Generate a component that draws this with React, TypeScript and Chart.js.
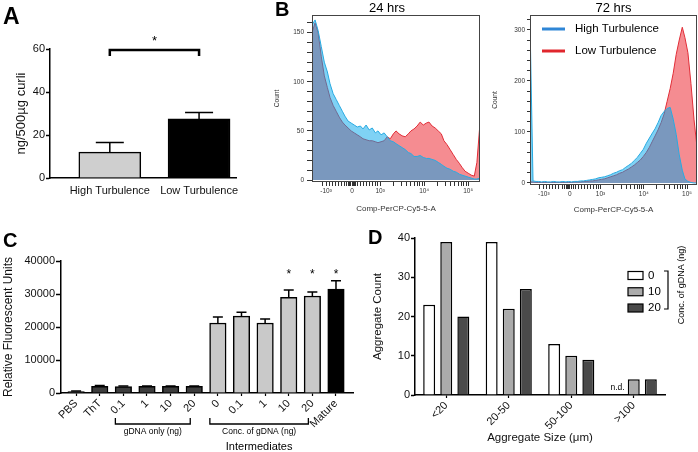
import React, { useEffect, useRef } from "react";
import { Chart, registerables } from "chart.js";

Chart.register(...registerables);

const SANS = "'Liberation Sans', Arial, Helvetica, sans-serif";
Chart.defaults.font.family = SANS;
Chart.defaults.color = "#111";

// ---------------- Panel A ----------------
const aCategories = ["High Turbulence", "Low Turbulence"];
const aValues = [12, 27.5];
const aErrors = [4.5, 3];
const aYTicks = [0, 20, 40, 60];
const aYTitle = "ng/500µg curli";
const aSig = { from: 1, to: 2, level: 59.5, drop: 56.8, star: 62, text: "*" };

// ---------------- Panel B ----------------
const bXLabels = ["-10³", "0", "10³", "10⁴", "10⁵"];
const bDecadeMinors = [2, 3, 4, 5, 6, 7, 8, 9];
const bXTitle = "Comp-PerCP-Cy5-5-A";
const bYTitle = "Count";
const bSeriesNames = ["High Turbulence", "Low Turbulence"];

const b24Title = "24 hrs";
const b24XMajors = [-0.23, 0.36, 1, 2, 3];
const b24XLinearMinors = [-0.32, -0.16, -0.09, -0.02, 0.05, 0.11, 0.18, 0.24, 0.28, 0.31, 0.33, 0.39, 0.41, 0.44, 0.48, 0.55, 0.62, 0.69, 0.76, 0.83, 0.9, 0.95];
const b24YTicks = [0, 10, 20, 30, 40, 50, 60, 70, 80, 90, 100, 110, 120, 130, 140, 150, 160];
const b24YLabels = [0, 50, 100, 150];
const b24Bins = [-0.55, -0.48, -0.41, -0.34, -0.27, -0.2, -0.14, -0.07, 0, 0.07, 0.14, 0.2, 0.27, 0.34, 0.41, 0.48, 0.55, 0.61, 0.68, 0.75, 0.82, 0.89, 0.95, 1.02, 1.09, 1.16, 1.23, 1.3, 1.36, 1.43, 1.5, 1.57, 1.64, 1.7, 1.77, 1.84, 1.91, 1.98, 2.05, 2.11, 2.18, 2.25, 2.32, 2.39, 2.45, 2.52, 2.59, 2.66, 2.73, 2.8, 2.86, 2.93, 3, 3.07, 3.14, 3.2, 3.27];
const b24High = [158, 163, 152, 136, 120, 110, 98, 88, 82, 76, 70, 65, 60, 58, 56, 54, 55, 52, 56, 51, 53, 48, 50, 46, 48, 44, 40, 39, 37, 35, 33, 31, 28, 27, 24, 24, 25, 23, 22, 22, 21, 20, 18, 16, 14, 12, 11, 9, 8, 6, 5, 4, 3, 2, 1, 1, 2];
const b24Low = [150, 160, 150, 126, 106, 94, 84, 76, 70, 64, 59, 56, 53, 50, 48, 46, 44, 42, 41, 40, 40, 39, 38, 39, 40, 44, 42, 47, 50, 47, 45, 44, 47, 50, 52, 55, 59, 56, 58, 59, 55, 53, 50, 47, 40, 36, 31, 26, 21, 17, 13, 9, 7, 5, 4, 18, 58];

const b72Title = "72 hrs";
const b72XMajors = [-0.31, 0.29, 1, 2, 3];
const b72XLinearMinors = [-0.4, -0.24, -0.17, -0.1, -0.03, 0.04, 0.11, 0.17, 0.21, 0.24, 0.26, 0.32, 0.34, 0.37, 0.42, 0.49, 0.56, 0.63, 0.7, 0.77, 0.84, 0.91, 0.96];
const b72YTicks = [0, 20, 40, 60, 80, 100, 120, 140, 160, 180, 200, 220, 240, 260, 280, 300, 320];
const b72YLabels = [0, 100, 200, 300];
const b72Bins = [-0.63, -0.56, -0.49, -0.43, -0.36, -0.29, -0.22, -0.15, -0.08, -0.01, 0.06, 0.13, 0.2, 0.26, 0.33, 0.4, 0.47, 0.54, 0.61, 0.68, 0.75, 0.82, 0.89, 0.95, 1.02, 1.09, 1.16, 1.23, 1.3, 1.37, 1.44, 1.51, 1.57, 1.64, 1.71, 1.78, 1.85, 1.92, 1.99, 2.06, 2.13, 2.2, 2.26, 2.33, 2.4, 2.47, 2.54, 2.61, 2.68, 2.75, 2.82, 2.89, 2.95, 3.02, 3.09, 3.16, 3.23];
const b72High = [315, 4, 3, 3, 2, 3, 2, 2, 3, 2, 2, 3, 2, 3, 2, 3, 3, 4, 4, 5, 6, 7, 8, 10, 11, 12, 14, 16, 19, 21, 24, 26, 30, 34, 38, 44, 50, 58, 66, 78, 88, 98, 106, 118, 132, 140, 146, 148, 125, 95, 55, 25, 8, 3, 1, 0, 0];
const b72Low = [2, 2, 1, 1, 1, 1, 1, 1, 1, 1, 1, 1, 1, 1, 1, 2, 2, 2, 3, 3, 4, 4, 5, 6, 7, 8, 10, 12, 14, 16, 19, 21, 24, 27, 31, 35, 40, 45, 52, 60, 70, 82, 92, 104, 118, 135, 160, 185, 215, 252, 280, 305, 285, 255, 195, 125, 70];

// ---------------- Panel C ----------------
const cLabels = ["PBS", "ThT", "0.1", "1", "10", "20", "0", "0.1", "1", "10", "20", "Mature"];
const cValues = [450, 2050, 1950, 2000, 2000, 2000, 21200, 23300, 21200, 29000, 29400, 31500];
const cErrors = [150, 200, 150, 150, 150, 150, 1800, 1200, 1200, 2200, 1200, 2500];
const cYTicks = [0, 10000, 20000, 30000, 40000];
const cYTitle = "Relative Fluorescent Units";
const cBrackets = [
  { from: 2, to: 5, text: "gDNA only (ng)" },
  { from: 6, to: 10, text: "Conc. of gDNA (ng)" },
];
const cGroupLabel = "Intermediates";
const cStarIdx = [9, 10, 11];
const cStarLevel = 34800;
const cColors = ["#3d3d3d", "#3d3d3d", "#3d3d3d", "#3d3d3d", "#3d3d3d", "#3d3d3d", "#c9c9c9", "#c9c9c9", "#c9c9c9", "#c9c9c9", "#c9c9c9", "#000000"];

// ---------------- Panel D ----------------
const dCategories = ["<20", "20-50", "50-100", ">100"];
const dSeriesNames = ["0", "10", "20"];
const dSeries0 = [23, 39, 13, null];
const dSeries10 = [39, 22, 10, 4];
const dSeries20 = [20, 27, 9, 4];
const dYTicks = [0, 10, 20, 30, 40];
const dXTitle = "Aggregate Size (μm)";
const dYTitle = "Aggregate Count";
const dLegendTitle = "Conc. of gDNA (ng)";
const dMissingText = "n.d.";
const dColors = ["#ffffff", "#ababab", "#4a4a4a"];

// ---------------- plugins ----------------
function errorBars(errs: (number | null)[][], capHalf: number, lw: number) {
  return {
    id: "errorBars",
    afterDatasetsDraw(chart: any) {
      const ctx = chart.ctx;
      const ys = chart.scales.y;
      ctx.save();
      ctx.strokeStyle = "#000";
      ctx.lineWidth = lw;
      errs.forEach((arr, di) => {
        const meta = chart.getDatasetMeta(di);
        meta.data.forEach((el: any, i: number) => {
          const e = arr[i];
          if (e == null) return;
          const raw = chart.data.datasets[di].data[i];
          const v = typeof raw === "object" && raw !== null ? raw.y : raw;
          const yy = ys.getPixelForValue(v + e);
          ctx.beginPath();
          ctx.moveTo(el.x, el.y);
          ctx.lineTo(el.x, yy);
          ctx.moveTo(el.x - capHalf, yy);
          ctx.lineTo(el.x + capHalf, yy);
          ctx.stroke();
        });
      });
      ctx.restore();
    },
  };
}

const aSigPlugin = {
  id: "aSig",
  afterDraw(chart: any) {
    const { ctx, scales } = chart;
    const x = scales.x, y = scales.y;
    const x1 = x.getPixelForValue(aSig.from), x2 = x.getPixelForValue(aSig.to);
    const yl = y.getPixelForValue(aSig.level), yd = y.getPixelForValue(aSig.drop);
    ctx.save();
    ctx.strokeStyle = "#000";
    ctx.lineWidth = 2.5;
    ctx.beginPath();
    ctx.moveTo(x1, yd);
    ctx.lineTo(x1, yl);
    ctx.lineTo(x2, yl);
    ctx.lineTo(x2, yd);
    ctx.stroke();
    ctx.fillStyle = "#000";
    ctx.font = `13px ${SANS}`;
    ctx.textAlign = "center";
    ctx.textBaseline = "alphabetic";
    ctx.fillText(aSig.text, (x1 + x2) / 2, y.getPixelForValue(aSig.star));
    ctx.restore();
  },
};

function framePlugin(color: string) {
  return {
    id: "frame",
    afterDatasetsDraw(chart: any) {
      const { ctx, chartArea: a } = chart;
      ctx.save();
      ctx.strokeStyle = color;
      ctx.lineWidth = 1;
      ctx.strokeRect(Math.round(a.left) + 0.5, Math.round(a.top) + 0.5, Math.round(a.right - a.left) - 1, Math.round(a.bottom - a.top) - 1);
      ctx.restore();
    },
  };
}

function topTitle(text: string, dx: number) {
  return {
    id: "topTitle",
    afterDraw(chart: any) {
      const { ctx, chartArea: a } = chart;
      ctx.save();
      ctx.font = `13px ${SANS}`;
      ctx.fillStyle = "#000";
      ctx.textAlign = "center";
      ctx.textBaseline = "middle";
      ctx.fillText(text, (a.left + a.right) / 2 + dx, 8);
      ctx.restore();
    },
  };
}

function histLegend(colors: string[]) {
  return {
    id: "histLegend",
    afterDatasetsDraw(chart: any) {
      const { ctx, chartArea: a } = chart;
      ctx.save();
      chart.data.datasets.forEach((ds: any, i: number) => {
        const y = a.top + 14 + i * 22;
        ctx.strokeStyle = colors[i];
        ctx.lineWidth = 3;
        ctx.beginPath();
        ctx.moveTo(a.left + 12, y);
        ctx.lineTo(a.left + 35, y);
        ctx.stroke();
        ctx.fillStyle = "#000";
        ctx.font = `11.5px ${SANS}`;
        ctx.textAlign = "left";
        ctx.textBaseline = "middle";
        ctx.fillText(ds.label, a.left + 45, y);
      });
      ctx.restore();
    },
  };
}

const cAnnotPlugin = {
  id: "cAnnot",
  afterDraw(chart: any) {
    const { ctx, chartArea: a, scales } = chart;
    const x = scales.x, y = scales.y;
    ctx.save();
    ctx.strokeStyle = "#000";
    ctx.fillStyle = "#000";
    ctx.lineWidth = 1.3;
    ctx.textAlign = "center";
    ctx.textBaseline = "middle";
    const yb = a.bottom + 31;
    let cx = 0;
    cBrackets.forEach((b) => {
      const x1 = x.getPixelForValue(b.from) - 8, x2 = x.getPixelForValue(b.to) - 4;
      ctx.beginPath();
      ctx.moveTo(x1, yb - 6);
      ctx.lineTo(x1, yb);
      ctx.lineTo(x2, yb);
      ctx.lineTo(x2, yb - 6);
      ctx.stroke();
      ctx.font = `8.5px ${SANS}`;
      ctx.fillText(b.text, (x1 + x2) / 2, yb + 8);
      cx = (x1 + x2) / 2;
    });
    ctx.font = `11px ${SANS}`;
    ctx.fillText(cGroupLabel, cx, yb + 23);
    ctx.font = `12px ${SANS}`;
    ctx.textBaseline = "alphabetic";
    cStarIdx.forEach((i) => {
      ctx.fillText("*", x.getPixelForValue(i), y.getPixelForValue(cStarLevel));
    });
    ctx.restore();
  },
};

const dAnnotPlugin = {
  id: "dAnnot",
  afterDraw(chart: any) {
    const { ctx, chartArea: a, scales } = chart;
    ctx.save();
    chart.data.datasets.forEach((ds: any, i: number) => {
      const cy = a.top + 37.5 + i * 16.25;
      ctx.fillStyle = ds.backgroundColor;
      ctx.fillRect(a.right - 37, cy - 4, 15, 8);
      ctx.strokeStyle = "#000";
      ctx.lineWidth = 1.2;
      ctx.strokeRect(a.right - 37, cy - 4, 15, 8);
      ctx.fillStyle = "#000";
      ctx.font = `11.5px ${SANS}`;
      ctx.textAlign = "left";
      ctx.textBaseline = "middle";
      ctx.fillText(ds.label, a.right - 17, cy);
    });
    const bx = a.right + 3;
    ctx.strokeStyle = "#000";
    ctx.lineWidth = 1.2;
    ctx.beginPath();
    ctx.moveTo(bx - 4, a.top + 33);
    ctx.lineTo(bx, a.top + 33);
    ctx.lineTo(bx, a.top + 71);
    ctx.lineTo(bx - 4, a.top + 71);
    ctx.stroke();
    ctx.save();
    ctx.translate(a.right + 16.5, a.top + 47);
    ctx.rotate(-Math.PI / 2);
    ctx.font = `9px ${SANS}`;
    ctx.textAlign = "center";
    ctx.textBaseline = "middle";
    ctx.fillText(dLegendTitle, 0, 0);
    ctx.restore();
    chart.data.datasets.forEach((ds: any, di: number) => {
      const meta = chart.getDatasetMeta(di);
      ds.data.forEach((v: any, i: number) => {
        if (v !== null) return;
        let xp = meta.data[i] ? meta.data[i].x : NaN;
        if (!isFinite(xp)) xp = scales.x.getPixelForValue(i) - 17;
        ctx.font = `8.5px ${SANS}`;
        ctx.fillStyle = "#000";
        ctx.textAlign = "right";
        ctx.textBaseline = "middle";
        ctx.fillText(dMissingText, xp + 8, a.bottom - 7);
      });
    });
    ctx.restore();
  },
};

// ---------------- configs ----------------
const base = { responsive: false, animation: false as const, devicePixelRatio: 1 };
const noPlugins = { legend: { display: false }, tooltip: { enabled: false }, title: { display: false } };

function configA(): any {
  return {
    type: "bar",
    data: {
      datasets: [
        {
          data: aValues.map((v, i) => ({ x: i + 1, y: v })),
          backgroundColor: ["#cfcfcf", "#000000"],
          borderColor: "#000",
          borderWidth: 1.5,
          barThickness: 62,
        },
      ],
    },
    options: {
      ...base,
      layout: { padding: { top: 49, right: 5, left: 0, bottom: 0 } },
      plugins: noPlugins,
      scales: {
        x: {
          type: "linear",
          offset: false,
          min: 0.33,
          max: 2.42,
          afterBuildTicks: (s: any) => { s.ticks = aCategories.map((_, i) => ({ value: i + 1 })); },
          afterFit: (s: any) => { s.height = 22; },
          ticks: { autoSkip: false, maxRotation: 0, padding: 6, color: "#111", font: { size: 11 }, callback: (v: any) => aCategories[v - 1] ?? "" },
          grid: { display: false, drawTicks: false, offset: false },
          border: { color: "#000", width: 1.5 },
        },
        y: {
          min: 0,
          max: 60,
          afterBuildTicks: (s: any) => { s.ticks = aYTicks.map((v) => ({ value: v })); },
          afterFit: (s: any) => { s.width = 50; },
          ticks: { padding: 1, color: "#111", font: { size: 11 }, callback: (v: any) => String(v) },
          grid: { drawOnChartArea: false, tickLength: 4, tickWidth: 1.5, color: "#000" },
          border: { color: "#000", width: 1.5 },
          title: { display: true, text: aYTitle, color: "#111", font: { size: 13 }, padding: { top: 14, bottom: 0 } },
        },
      },
    },
    plugins: [errorBars([aErrors], 14, 1.5), aSigPlugin],
  };
}

function histConfig(p: any): any {
  const minorsX = [...p.linMinors];
  [1, 2, 3].forEach((d) => bDecadeMinors.forEach((k) => minorsX.push(d + Math.log10(k))));
  const xTicks = [...p.majors, ...minorsX].filter((v) => v >= p.xMin && v <= p.xMax).sort((a, b) => a - b);
  return {
    type: "line",
    data: {
      datasets: [
        {
          label: bSeriesNames[0],
          data: p.bins.map((x: number, i: number) => ({ x, y: p.high[i] })),
          borderColor: "rgb(40,170,225)",
          backgroundColor: "rgba(0,165,235,0.5)",
          fill: "origin",
          borderWidth: 1,
          pointRadius: 0,
          tension: 0,
          order: 0,
        },
        {
          label: bSeriesNames[1],
          data: p.bins.map((x: number, i: number) => ({ x, y: p.low[i] })),
          borderColor: "rgb(225,45,55)",
          backgroundColor: "rgba(235,25,35,0.5)",
          fill: "origin",
          borderWidth: 1,
          pointRadius: 0,
          tension: 0,
          order: 1,
        },
      ],
    },
    options: {
      ...base,
      layout: { padding: { top: 15, right: p.padRight, left: 0, bottom: 0 } },
      plugins: noPlugins,
      scales: {
        x: {
          type: "linear",
          min: p.xMin,
          max: p.xMax,
          afterBuildTicks: (s: any) => { s.ticks = xTicks.map((v) => ({ value: v })); },
          afterFit: (s: any) => { s.height = p.xAxisHeight; },
          ticks: {
            autoSkip: false,
            maxRotation: 0,
            padding: 1,
            color: "#333",
            font: { size: 6.5 },
            callback: (v: any) => {
              const i = p.majors.indexOf(v);
              return i >= 0 ? bXLabels[i] : "";
            },
          },
          grid: { drawOnChartArea: false, tickLength: 4, color: "#333", tickWidth: 1 },
          border: { display: false },
          title: { display: true, text: bXTitle, color: "#333", font: { size: 8 }, padding: { top: 0, bottom: p.xTitlePad } },
        },
        y: {
          min: p.yMin,
          max: p.yMax,
          afterBuildTicks: (s: any) => { s.ticks = p.yTicks.map((v: number) => ({ value: v })); },
          afterFit: (s: any) => { s.width = p.yAxisWidth; },
          ticks: {
            autoSkip: false,
            padding: p.yPad,
            color: "#333",
            font: { size: 6.5 },
            callback: (v: any) => (p.yLabels.includes(v) ? String(v) : ""),
          },
          grid: { drawOnChartArea: false, tickLength: p.yTickLen, color: "#333", tickWidth: 1 },
          border: { display: false },
          title: { display: true, text: bYTitle, color: "#333", font: { size: 6.6 }, padding: { top: p.yTitlePad, bottom: 0 } },
        },
      },
    },
    plugins: [framePlugin("#444"), topTitle(p.title, p.titleDx), ...(p.legend ? [histLegend(["#2f86d6", "#e0262d"])] : [])],
  };
}

function configC(): any {
  return {
    type: "bar",
    data: {
      datasets: [
        {
          data: cValues.map((v, i) => ({ x: i, y: v })),
          backgroundColor: cColors,
          borderColor: "#000",
          borderWidth: 1.5,
          barThickness: 16.5,
        },
      ],
    },
    options: {
      ...base,
      layout: { padding: { top: 61, right: 7, left: 0, bottom: 0 } },
      plugins: noPlugins,
      scales: {
        x: {
          type: "linear",
          offset: false,
          min: -0.64,
          max: 11.72,
          afterBuildTicks: (s: any) => { s.ticks = cLabels.map((_, i) => ({ value: i })); },
          afterFit: (s: any) => { s.height = 59; },
          ticks: { autoSkip: false, minRotation: 45, maxRotation: 45, padding: 1, color: "#111", font: { size: 11 }, callback: (v: any) => cLabels[v] ?? "" },
          grid: { drawOnChartArea: false, tickLength: 3, tickWidth: 1.2, color: "#000", offset: false },
          border: { color: "#000", width: 1.5 },
        },
        y: {
          min: 0,
          max: 40000,
          afterBuildTicks: (s: any) => { s.ticks = cYTicks.map((v) => ({ value: v })); },
          afterFit: (s: any) => { s.width = 61; },
          ticks: { padding: 1, color: "#111", font: { size: 11 }, callback: (v: any) => String(v) },
          grid: { drawOnChartArea: false, tickLength: 5, tickWidth: 1.5, color: "#000" },
          border: { color: "#000", width: 1.5 },
          title: { display: true, text: cYTitle, color: "#111", font: { size: 12 }, padding: { top: 1.8, bottom: 0 } },
        },
      },
    },
    plugins: [errorBars([cErrors], 5, 1.5), cAnnotPlugin],
  };
}

function configD(): any {
  const series = [dSeries0, dSeries10, dSeries20];
  return {
    type: "bar",
    data: {
      labels: dCategories,
      datasets: series.map((s, i) => ({
        label: dSeriesNames[i],
        data: s,
        backgroundColor: dColors[i],
        borderColor: "#000",
        borderWidth: 1.5,
        categoryPercentage: 0.82,
        barPercentage: 0.7,
      })),
    },
    options: {
      ...base,
      layout: { padding: { top: 38, right: 33, left: 0, bottom: 0 } },
      plugins: noPlugins,
      scales: {
        x: {
          type: "category",
          afterFit: (s: any) => { s.height = 57; },
          ticks: { autoSkip: false, minRotation: 45, maxRotation: 45, padding: 1, color: "#111", font: { size: 11 } },
          grid: { drawOnChartArea: false, tickLength: 3, tickWidth: 1.2, color: "#000", offset: false },
          border: { color: "#000", width: 1.5 },
          title: { display: true, text: dXTitle, color: "#111", font: { size: 11.5 }, padding: { top: 0, bottom: 7 } },
        },
        y: {
          min: 0,
          max: 40,
          afterBuildTicks: (s: any) => { s.ticks = dYTicks.map((v) => ({ value: v })); },
          afterFit: (s: any) => { s.width = 55; },
          ticks: { padding: 1, color: "#111", font: { size: 11 }, callback: (v: any) => String(v) },
          grid: { drawOnChartArea: false, tickLength: 4, tickWidth: 1.5, color: "#000" },
          border: { color: "#000", width: 1.5 },
          title: { display: true, text: dYTitle, color: "#111", font: { size: 11.5 }, padding: { top: 11, bottom: 0 } },
        },
      },
    },
    plugins: [dAnnotPlugin],
  };
}

// ---------------- components ----------------
function ChartBox(props: { left: number; top: number; width: number; height: number; make: () => any }) {
  const ref = useRef<HTMLCanvasElement>(null);
  useEffect(() => {
    const chart = new Chart(ref.current as HTMLCanvasElement, props.make());
    return () => chart.destroy();
  }, []);
  return (
    <canvas
      ref={ref}
      width={props.width}
      height={props.height}
      style={{ position: "absolute", left: props.left, top: props.top, width: props.width, height: props.height }}
    />
  );
}

function Letter(props: { text: string; left: number; top: number; size: number }) {
  return (
    <div
      style={{
        position: "absolute",
        left: props.left,
        top: props.top,
        fontFamily: SANS,
        fontWeight: "bold",
        fontSize: props.size,
        lineHeight: 1,
        color: "#000",
      }}
    >
      {props.text}
    </div>
  );
}

export default function App() {
  return (
    <div style={{ position: "absolute", left: 0, top: 0, width: 698, height: 452, background: "#fff", overflow: "hidden" }}>
      <ChartBox left={0} top={0} width={245} height={200} make={configA} />
      <ChartBox
        left={268}
        top={0}
        width={214}
        height={215}
        make={() =>
          histConfig({
            bins: b24Bins, high: b24High, low: b24Low,
            xMin: -0.55, xMax: 3.27, majors: b24XMajors, linMinors: b24XLinearMinors,
            yMin: -2, yMax: 168, yTicks: b24YTicks, yLabels: b24YLabels,
            yTickLen: 5, yPad: 3, yAxisWidth: 44, yTitlePad: 5.1,
            xAxisHeight: 33, xTitlePad: 1.2, padRight: 2,
            title: b24Title, titleDx: -9, legend: false,
          })
        }
      />
      <ChartBox
        left={488}
        top={0}
        width={210}
        height={215}
        make={() =>
          histConfig({
            bins: b72Bins, high: b72High, low: b72Low,
            xMin: -0.63, xMax: 3.23, majors: b72XMajors, linMinors: b72XLinearMinors,
            yMin: -4, yMax: 329, yTicks: b72YTicks, yLabels: b72YLabels,
            yTickLen: 3, yPad: 2, yAxisWidth: 42, yTitlePad: 3.1,
            xAxisHeight: 30, xTitlePad: 0, padRight: 1,
            title: b72Title, titleDx: 0, legend: true,
          })
        }
      />
      <ChartBox left={0} top={200} width={360} height={252} make={configC} />
      <ChartBox left={360} top={200} width={338} height={252} make={configD} />
      <Letter text="A" left={3} top={5} size={23} />
      <Letter text="B" left={275} top={-1} size={20} />
      <Letter text="C" left={3} top={230} size={20} />
      <Letter text="D" left={368} top={227} size={20} />
    </div>
  );
}
